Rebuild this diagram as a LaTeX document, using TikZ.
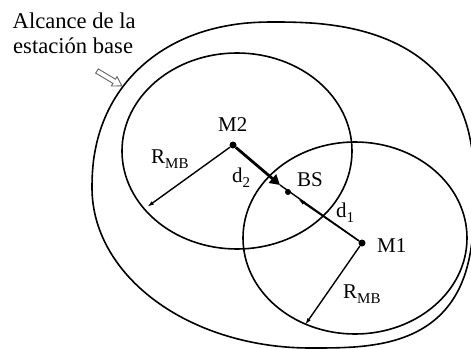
\documentclass[tikz,border=0pt]{standalone}
\usepackage{fontspec}
\setmainfont{Liberation Serif}
\usetikzlibrary{arrows.meta}
\newcommand{\subtxt}[1]{\raisebox{-0.28em}{\fontsize{15}{15}\selectfont #1}}
\begin{document}
\begin{tikzpicture}[x=1pt,y=-1pt,
  ring/.style={line width=1.6pt,line join=round},
  radius arrow/.style={line width=1.4pt,-{Latex[length=7pt,width=4pt]}},
  lbl/.style={font=\fontsize{21}{24}\selectfont,inner sep=0pt,anchor=base west},
  ttl/.style={font=\fontsize{22.6}{25}\selectfont,inner sep=0pt,anchor=base west},
  dot/.style={circle,fill=black,inner sep=0pt,minimum size=#1}]
\useasboundingbox (0,0) rectangle (471,348);
% coverage of the base station (egg-shaped outline, four superelliptic quadrants)
\draw[ring]
  plot[domain=0.05:89.95,samples=60] ({273+201*cos(\x)^0.8},{188-166*sin(\x)^0.8})
  -- plot[domain=0.05:89.95,samples=60] ({273-181*sin(\x)^0.909},{188-166*cos(\x)^0.909})
  -- plot[domain=0:90,samples=60] ({310-218*cos(\x)},{188+160*sin(\x)})
  -- plot[domain=0.05:89.95,samples=60] ({310+164*sin(\x)^0.667},{188+160*cos(\x)^0.667})
  -- cycle;
% mobile coverage ellipses
\draw[ring] (237,151) ellipse [x radius=115pt, y radius=98pt];
\draw[ring] (355,238) ellipse [x radius=112pt, y radius=96pt];
% points
\node[dot=7pt] (M2) at (233,145) {};
\node[dot=7pt] (M1) at (362,243) {};
\node[dot=6pt] (BS) at (288,192) {};
\coordinate (R2end) at (147,207);
\coordinate (R1end) at (305,325);
\coordinate (d2tip) at (280,185);
\coordinate (d1tip) at (298,199);
% connectors
\draw[line width=1.4pt] (M1) -- (d2tip);
\draw[line width=1.4pt,-{Latex[length=7pt,width=4pt]}] (M1) -- (d1tip);
\draw[line width=2.8pt,-{Triangle[length=10pt,width=11pt]}] (M2) -- (d2tip);
\draw[radius arrow] (M2) -- (R2end);
\draw[radius arrow] (M1) -- (R1end);
% hollow pointer arrow
\draw[gray!80!black,line width=0.9pt,fill=white]
  (98.3,68.9) -- (115.5,79.2) -- (117.0,76.6) -- (121.9,85.9) -- (111.4,86.0)
  -- (112.9,83.4) -- (95.7,73.1) -- cycle;
% labels
\node[ttl] (t1) at (12.5,28) {Alcance de la};
\node[ttl] (t2) at (13,53) {estación base};
\node[lbl] (lM2) at (218,131) {M2};
\node[lbl] (ld2) at (232,182) {d\subtxt{2}};
\node[lbl] (lBS) at (297,186) {BS};
\node[lbl] (ld1) at (336,217) {d\subtxt{1}};
\node[lbl] (lM1) at (377,252) {M1};
\node[lbl] (lR2) at (151,163) {R\subtxt{MB}};
\node[lbl] (lR1) at (343,298) {R\subtxt{MB}};
\end{tikzpicture}
\end{document}
